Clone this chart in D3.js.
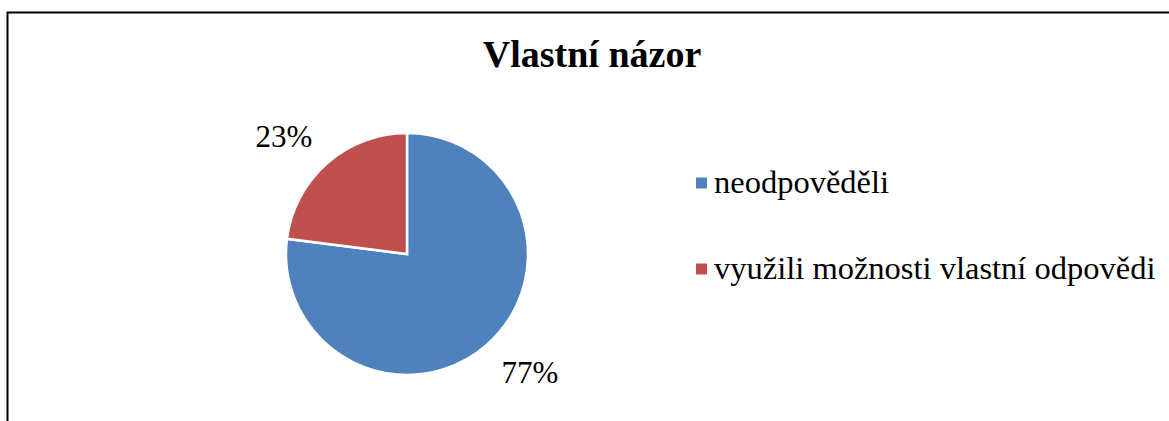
<!DOCTYPE html>
<html>
<head>
<meta charset="utf-8">
<script src="https://cdn.jsdelivr.net/npm/d3@7"></script>
<style>
  body { margin: 0; background: #fff; }
</style>
</head>
<body>
<div id="chart"></div>
<script>
// chart data
var categories = ["neodpověděli", "využili možnosti vlastní odpovědi"];
var values = [77, 23];
var colors = ["#4F81BD", "#C0504D"];
var title = "Vlastní názor";

var width = 1169, height = 421;
var cx = 407, cy = 254, radius = 121;
var serif = "'Liberation Serif', Tinos, 'Times New Roman', 'DejaVu Serif', serif";

var svg = d3.select("#chart").append("svg")
    .attr("width", width)
    .attr("height", height)
    .style("display", "block");

// frame (runs off the right and bottom edge like the original crop)
svg.append("rect")
    .attr("x", 7.5).attr("y", 12.5)
    .attr("width", width).attr("height", height)
    .attr("fill", "none")
    .attr("stroke", "#000")
    .attr("stroke-width", 2);

svg.append("text")
    .attr("x", 592).attr("y", 67)
    .attr("text-anchor", "middle")
    .attr("font-family", serif)
    .attr("font-weight", "bold")
    .attr("font-size", 38)
    .text(title);

var pie = d3.pie().sort(null).value(function (d) { return d; });
var arcs = pie(values);

var arc = d3.arc().innerRadius(0).outerRadius(radius);
var labelArc = d3.arc().innerRadius(143).outerRadius(143);

var g = svg.append("g").attr("transform", "translate(" + cx + "," + cy + ")");

g.selectAll("path")
    .data(arcs)
  .enter().append("path")
    .attr("d", arc)
    .attr("fill", function (d, i) { return colors[i]; })
    .attr("stroke", "#fff")
    .attr("stroke-width", 2.5)
    .attr("stroke-linejoin", "miter");

// percent labels sit outside the slice, corner touching the mid-angle point
g.selectAll("text.pct")
    .data(arcs)
  .enter().append("text")
    .attr("class", "pct")
    .attr("font-family", serif)
    .attr("font-size", 31)
    .each(function (d) {
        var p = labelArc.centroid(d);
        var t = d3.select(this)
            .attr("x", p[0]).attr("y", p[1])
            .attr("text-anchor", p[0] < 0 ? "end" : "start");
        if (p[1] > 0) t.attr("dy", "0.7em");
    })
    .text(function (d) { return d.data + "%"; });

// legend
var legendY = d3.scalePoint().domain(categories).range([183, 269]);

var legend = svg.selectAll("g.legend")
    .data(categories)
  .enter().append("g")
    .attr("class", "legend")
    .attr("transform", function (d) { return "translate(696," + legendY(d) + ")"; });

legend.append("rect")
    .attr("x", 0).attr("y", -5.5)
    .attr("width", 11).attr("height", 11)
    .attr("fill", function (d, i) { return colors[i]; });

legend.append("text")
    .attr("x", 18).attr("y", 10)
    .attr("font-family", serif)
    .attr("font-size", 32.5)
    .text(function (d) { return d; });
</script>
</body>
</html>
